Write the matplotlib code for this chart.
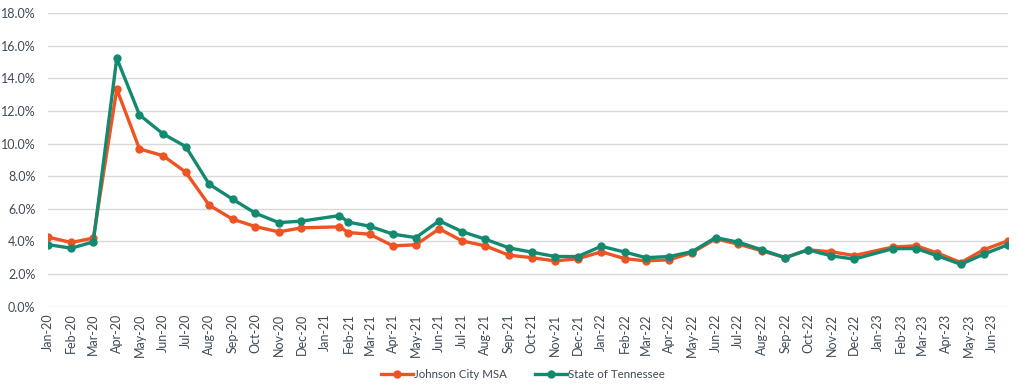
import matplotlib
matplotlib.use("Agg")
import matplotlib.pyplot as plt
import matplotlib.dates as mdates
from matplotlib.ticker import FuncFormatter, MultipleLocator
import pandas as pd

plt.rcParams['font.family'] = ['Lato', 'DejaVu Sans']

# observation dates (a few months were reported mid-month)
dates = [
    "2020-01-01", "2020-02-01", "2020-03-01", "2020-04-01", "2020-05-01", "2020-06-01",
    "2020-07-01", "2020-08-01", "2020-09-01", "2020-10-01", "2020-11-01", "2020-12-01",
    "2021-01-20", "2021-02-01", "2021-03-01", "2021-04-01", "2021-05-01", "2021-06-01",
    "2021-07-01", "2021-08-01", "2021-09-01", "2021-10-01", "2021-11-01", "2021-12-01",
    "2022-01-01", "2022-02-01", "2022-03-01", "2022-04-01", "2022-05-01", "2022-06-01",
    "2022-07-01", "2022-08-01", "2022-09-01", "2022-10-01", "2022-11-01", "2022-12-01",
    "2023-01-21", "2023-02-21", "2023-03-21", "2023-04-21", "2023-05-21", "2023-06-22",
]

# unemployment rate, %
johnson_city = [
    4.26, 3.93, 4.20, 13.34, 9.67, 9.26, 8.25, 6.22, 5.36, 4.91, 4.58, 4.83,
    4.89, 4.54, 4.44, 3.72, 3.79, 4.77, 4.03, 3.72, 3.15, 3.00, 2.80, 2.93,
    3.36, 2.94, 2.80, 2.87, 3.31, 4.15, 3.83, 3.42, 3.00, 3.48, 3.36, 3.13,
    3.65, 3.73, 3.28, 2.70, 3.48, 4.03,
]
tennessee = [
    3.80, 3.58, 3.97, 15.24, 11.76, 10.60, 9.82, 7.51, 6.59, 5.73, 5.15, 5.24,
    5.58, 5.18, 4.93, 4.44, 4.23, 5.26, 4.60, 4.13, 3.60, 3.34, 3.07, 3.07,
    3.70, 3.34, 3.00, 3.07, 3.37, 4.23, 3.95, 3.48, 3.00, 3.48, 3.11, 2.91,
    3.55, 3.56, 3.11, 2.59, 3.21, 3.79,
]

x = pd.to_datetime(dates)
text_color = '#3F4A56'

fig = plt.figure(figsize=(10.19, 3.89), dpi=100)
ax = fig.add_axes([0.047, 0.212, 0.942, 0.754])

ax.plot(x, johnson_city, color='#EE5324', lw=2.4, marker='o', ms=5,
        label='Johnson City MSA', zorder=3)
ax.plot(x, tennessee, color='#138A6F', lw=2.4, marker='o', ms=5,
        label='State of Tennessee', zorder=4)

ax.set_ylim(0, 18)
ax.yaxis.set_major_locator(MultipleLocator(2))
ax.yaxis.set_major_formatter(FuncFormatter(lambda v, p: f"{v:.1f}%"))
ax.set_xlim(x[0], x[-1])
ax.xaxis.set_major_locator(mdates.MonthLocator())
ax.xaxis.set_major_formatter(mdates.DateFormatter('%b-%y'))

ax.grid(axis='y', color='#D9D9D9', lw=1)
ax.set_axisbelow(True)
for s in ax.spines.values():
    s.set_visible(False)
ax.tick_params(length=0, labelsize=9, colors=text_color)
ax.tick_params(axis='x', pad=5)
ax.tick_params(axis='y', pad=9)
plt.setp(ax.get_xticklabels(), rotation=90)

ax.legend(loc='lower center', bbox_to_anchor=(0.495, -0.285), ncol=2, frameon=False,
          fontsize=8.3, handlelength=2.8, handletextpad=0.1, columnspacing=2.4,
          labelcolor=text_color)

fig.savefig('out.png', dpi=100)
